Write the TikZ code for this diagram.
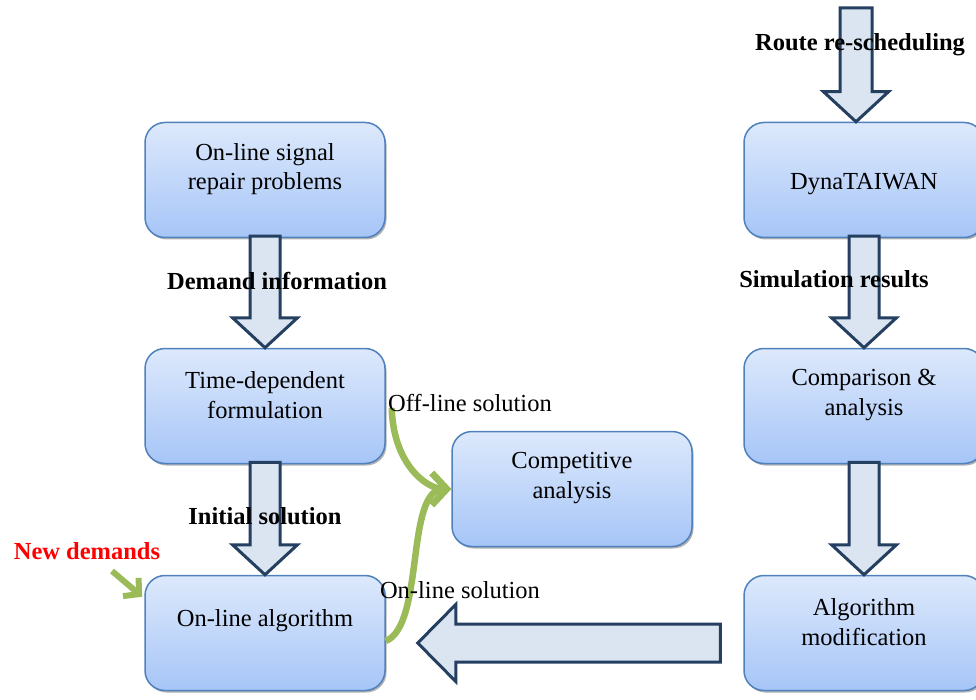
\documentclass[tikz,border=0pt]{standalone}
\usepackage{fontspec}
\setmainfont{Liberation Serif}
\usetikzlibrary{arrows.meta,calc,shadows}

\definecolor{boxtop}{HTML}{DDE9FC}
\definecolor{boxbot}{HTML}{A6C5F7}
\definecolor{boxline}{HTML}{4F81BD}
\definecolor{navy}{HTML}{243F60}
\definecolor{pale}{HTML}{DBE5F1}
\definecolor{leaf}{HTML}{9BBB59}

\begin{document}
\begin{tikzpicture}[
      x=1pt, y=-1pt,
      font=\fontsize{24.5}{29.5}\selectfont,
      box/.style={draw=boxline, line width=1.5pt, rounded corners=20pt, minimum width=240pt, minimum height=115pt,
        top color=boxtop, bottom color=boxbot, drop shadow={shadow xshift=1.5pt, shadow yshift=-2pt, fill=black!60}},
      txt/.style={align=center},
      lbl/.style={font=\fontsize{24.5}{29.5}\selectfont\bfseries},
      block/.style={draw=navy, fill=pale, line width=3pt, line join=miter},
      green/.style={draw=leaf, line width=6.5pt, -{Straight Barb[length=15pt, width=32pt]}}
    ]
      \useasboundingbox (0,0) rectangle (976,700);

      % boxes
      \node[box] (repair) at (265,180) {};
      \node[box] (timedep) at (265,406) {};
      \node[box] (online) at (265,633) {};
      \node[box] (dyna) at (864,180) {};
      \node[box] (compare) at (864,406) {};
      \node[box] (modify) at (864,633) {};
      \node[box] (compet) at (572,489) {};

      \node[txt] (repair-t) at ([yshift=11pt]repair.center) {On-line signal\\repair problems};
      \node[txt] (timedep-t) at ([yshift=11pt]timedep.center) {Time-dependent\\formulation};
      \node[txt] (online-t) at ([yshift=12pt]online.center) {On-line algorithm};
      \node[txt] (dyna-t) at ([yshift=-4pt]dyna.center) {DynaTAIWAN};
      \node[txt] (compare-t) at ([yshift=11pt]compare.center) {Comparison \&\\analysis};
      \node[txt] (modify-t) at ([yshift=11pt]modify.center) {Algorithm\\modification};
      \node[txt] (compet-t) at ([yshift=11pt]compet.center) {Competitive\\analysis};

      % block arrows
      \foreach \a/\b in {repair/timedep, timedep/online, dyna/compare, compare/modify}
        \draw[block] ($(\a.south)+(-15,-2)$) -- ($(\b.north)+(-15,-30)$) -- ($(\b.north)+(-32.5,-30)$) -- (\b.north)
          -- ($(\b.north)+(32.5,-30)$) -- ($(\b.north)+(15,-30)$) -- ($(\a.south)+(15,-2)$) -- cycle;

      \coordinate (top) at (856,8);
      \draw[block] ($(top)+(-16,0)$) -- ($(dyna.north)+(-24,-30)$) -- ($(dyna.north)+(-40.5,-30)$) -- ($(dyna.north)+(-8,0)$)
        -- ($(dyna.north)+(24.5,-30)$) -- ($(dyna.north)+(8,-30)$) -- ($(top)+(16,0)$) -- cycle;

      \draw[block] ($(modify.west)+(-23,-9)$) -- ($(online.east)+(70,-9)$) -- ($(online.east)+(70,-28.5)$) -- ($(online.east)+(32,10)$)
        -- ($(online.east)+(70,48.5)$) -- ($(online.east)+(70,29)$) -- ($(modify.west)+(-23,29)$) -- cycle;

      % green arrows
      \draw[green] ($(timedep.east)+(6,2)$) .. controls (393,462) and (425,489) .. (compet.west);
      \draw[green] ($(online.east)+(0,8)$) .. controls (425,625) and (405,489) .. (compet.west);
      \coordinate (nd) at (112,571);
      \draw[green, line width=6pt, -{Straight Barb[length=11pt, width=24pt]}] (nd) -- ($(online.north west)+(-2,22)$);

      % labels
      \node[lbl] (l-demand) at (277,281) {Demand information};
      \node[lbl] (l-sim) at (834,279) {Simulation results};
      \node[lbl] (l-init) at (265,516) {Initial solution};
      \node[lbl] (l-route) at (860,45) {Route re-scheduling};
      \node (l-off) at (470,403) {Off-line solution};
      \node (l-on) at (460,590) {On-line solution};
      \node[lbl, text=red] (l-new) at (87,551) {New demands};
    \end{tikzpicture}
\end{document}
